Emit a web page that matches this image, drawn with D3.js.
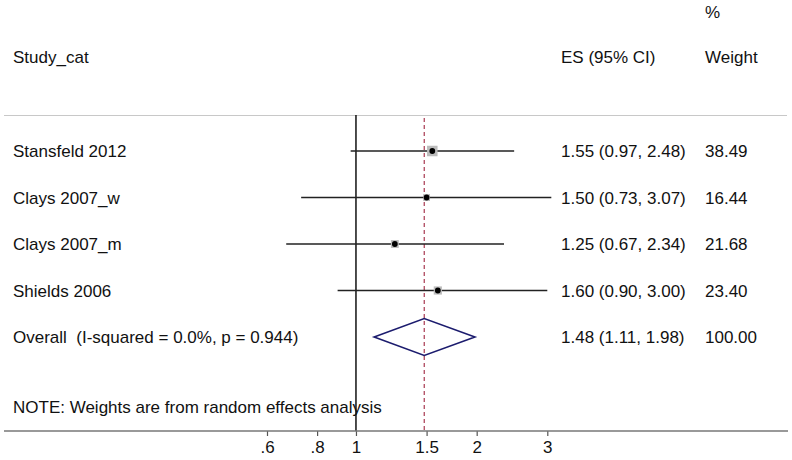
<!DOCTYPE html>
<html>
<head>
<meta charset="utf-8">
<script src="https://cdn.jsdelivr.net/npm/d3@7"></script>
<style>
  body { margin: 0; background: #fff; }
  text { font-family: "Liberation Sans", Arial, sans-serif; fill: #111; white-space: pre; }
</style>
</head>
<body>
<div id="chart"></div>
<script>
// study rows
var studies = ["Stansfeld 2012", "Clays 2007_w", "Clays 2007_m", "Shields 2006"];
var es = [1.55, 1.50, 1.25, 1.60];
var lower = [0.97, 0.73, 0.67, 0.90];
var upper = [2.48, 3.07, 2.34, 3.00];
var weights = [38.49, 16.44, 21.68, 23.40];

// pooled estimate
var overallLabel = "Overall  (I-squared = 0.0%, p = 0.944)";
var overallEs = 1.48;
var overallLower = 1.11;
var overallUpper = 1.98;
var overallWeight = 100.00;

var tickValues = [0.6, 0.8, 1, 1.5, 2, 3];
var tickLabels = [".6", ".8", "1", "1.5", "2", "3"];

var noteText = "NOTE: Weights are from random effects analysis";

function init() {
    var width = 792;
    var height = 460;
    var f2 = d3.format(".2f");

    var svg = d3.select("#chart")
                .append("svg")
                .attr("width", width)
                .attr("height", height);

    var xScale = d3.scaleLog()
                    .domain([0.6, 3])
                    .range([267, 547.3]);

    var rowNames = studies.concat([overallLabel]);
    var yScale = d3.scalePoint()
                    .domain(d3.range(rowNames.length))
                    .range([151, 337]);

    var axisY = 431;
    var colEs = 561;
    var colW = 705;

    // headers
    svg.append("text").attr("x", colW).attr("y", 18).style("font-size", "17px").text("%");
    svg.append("text").attr("x", 13).attr("y", 63).style("font-size", "17px").text("Study_cat");
    svg.append("text").attr("x", colEs).attr("y", 63).style("font-size", "17px").text("ES (95% CI)");
    svg.append("text").attr("x", colW).attr("y", 63).style("font-size", "17px").text("Weight");

    svg.append("line")
        .attr("x1", 4).attr("x2", 787)
        .attr("y1", 115.5).attr("y2", 115.5)
        .attr("stroke", "#c8c8c8")
        .attr("stroke-width", 1.2);

    // null line
    svg.append("line")
        .attr("x1", xScale(1)).attr("x2", xScale(1))
        .attr("y1", 115).attr("y2", axisY)
        .attr("stroke", "#111")
        .attr("stroke-width", 1.5);

    // overall effect line
    svg.append("line")
        .attr("x1", xScale(overallEs)).attr("x2", xScale(overallEs))
        .attr("y1", 118).attr("y2", axisY)
        .attr("stroke", "#a83850")
        .attr("stroke-width", 1.2)
        .attr("stroke-dasharray", "4,3");

    // confidence intervals
    svg.selectAll("line.ci")
        .data(studies)
        .enter()
        .append("line")
        .attr("class", "ci")
        .attr("x1", function(d, i) { return xScale(lower[i]); })
        .attr("x2", function(d, i) { return xScale(upper[i]); })
        .attr("y1", function(d, i) { return yScale(i); })
        .attr("y2", function(d, i) { return yScale(i); })
        .attr("stroke", "#222")
        .attr("stroke-width", 1.6);

    // weight boxes, area proportional to weight
    var boxSide = d3.scaleSqrt().domain([0, d3.max(weights)]).range([0, 10.5]);
    svg.selectAll("rect.box")
        .data(studies)
        .enter()
        .append("rect")
        .attr("class", "box")
        .attr("x", function(d, i) { return xScale(es[i]) - boxSide(weights[i]) / 2; })
        .attr("y", function(d, i) { return yScale(i) - boxSide(weights[i]) / 2; })
        .attr("width", function(d, i) { return boxSide(weights[i]); })
        .attr("height", function(d, i) { return boxSide(weights[i]); })
        .attr("fill", "#bcbcbc");

    svg.selectAll("circle.pt")
        .data(studies)
        .enter()
        .append("circle")
        .attr("class", "pt")
        .attr("cx", function(d, i) { return xScale(es[i]); })
        .attr("cy", function(d, i) { return yScale(i); })
        .attr("r", 2.9)
        .attr("fill", "#000");

    // diamond for the pooled estimate
    var oy = yScale(studies.length);
    var dh = 18.5;
    svg.append("path")
        .attr("d", "M" + xScale(overallLower) + "," + oy +
                   "L" + xScale(overallEs) + "," + (oy - dh) +
                   "L" + xScale(overallUpper) + "," + oy +
                   "L" + xScale(overallEs) + "," + (oy + dh) + "Z")
        .attr("fill", "none")
        .attr("stroke", "#1c1c6e")
        .attr("stroke-width", 1.6);

    // row labels and value columns
    var rows = rowNames.map(function(name, i) {
        if (i < studies.length) {
            return { name: name, es: es[i], lo: lower[i], hi: upper[i], w: weights[i] };
        }
        return { name: name, es: overallEs, lo: overallLower, hi: overallUpper, w: overallWeight };
    });

    var g = svg.selectAll("g.row")
        .data(rows)
        .enter()
        .append("g")
        .attr("class", "row")
        .attr("transform", function(d, i) { return "translate(0," + (yScale(i) + 6) + ")"; });

    g.append("text").attr("x", 13).style("font-size", "17px").text(function(d) { return d.name; });
    g.append("text").attr("x", colEs).style("font-size", "17px")
        .text(function(d) { return f2(d.es) + " (" + f2(d.lo) + ", " + f2(d.hi) + ")"; });
    g.append("text").attr("x", colW).style("font-size", "17px")
        .text(function(d) { return f2(d.w); });

    svg.append("text").attr("x", 13).attr("y", 413).style("font-size", "17px").text(noteText);

    // x axis
    var xAxis = d3.axisBottom()
                .scale(xScale)
                .tickValues(tickValues)
                .tickSize(5)
                .tickFormat(function(d, i) { return tickLabels[i]; });

    var ax = svg.append("g")
        .attr("transform", "translate(0," + axisY + ")")
        .call(xAxis);
    ax.select(".domain").remove();
    ax.selectAll(".tick line").attr("stroke", "#555").attr("stroke-width", 1.2);
    ax.selectAll(".tick text")
        .attr("y", 10)
        .style("font-size", "17px")
        .style("font-family", "'Liberation Sans', Arial, sans-serif")
        .attr("fill", "#111");

    svg.append("line")
        .attr("x1", 4).attr("x2", 788)
        .attr("y1", axisY).attr("y2", axisY)
        .attr("stroke", "#777")
        .attr("stroke-width", 1.6);
}

window.onload = init;
</script>
</body>
</html>
